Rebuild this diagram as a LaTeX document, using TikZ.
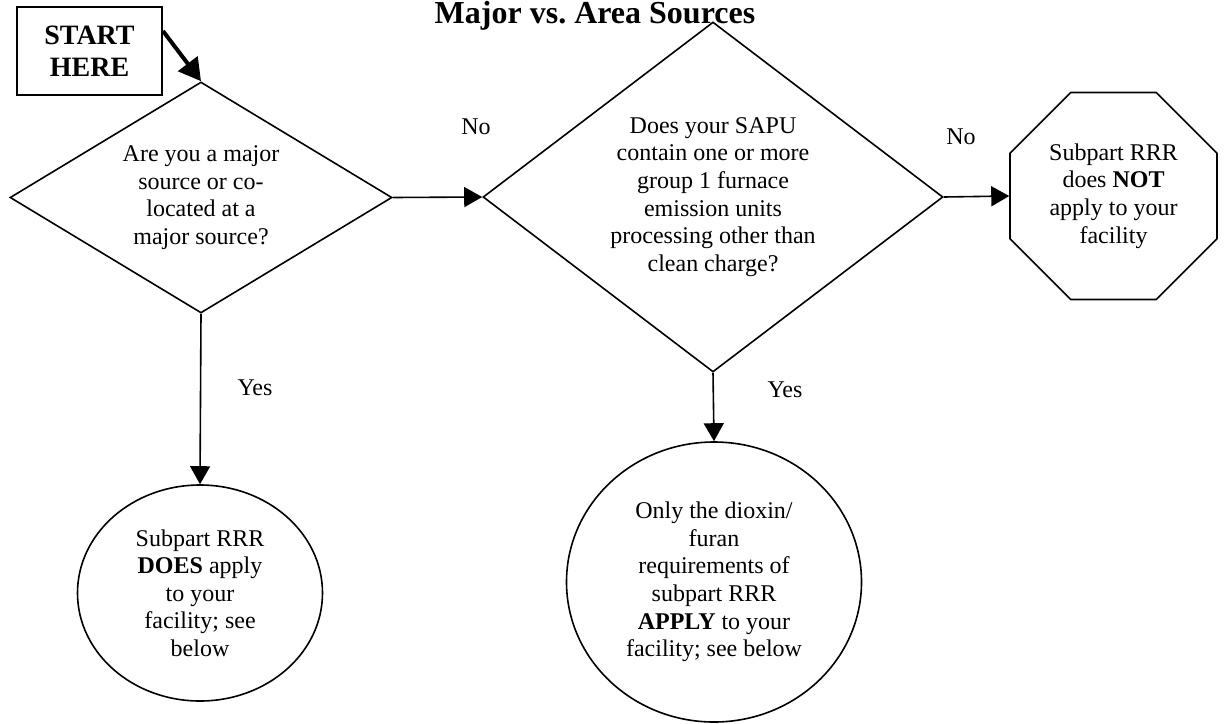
\documentclass[tikz,border=0pt]{standalone}
\usepackage{fontspec}
\setmainfont{Liberation Serif}
\usetikzlibrary{arrows.meta,shapes.geometric}

\begin{document}
\begin{tikzpicture}[x=0.5pt,y=-0.5pt,line width=0.8pt,
          every node/.style={inner sep=0pt,align=center,font=\fontsize{12pt}{13.8pt}\selectfont},
          >={Triangle[length=9pt,width=10pt]},
          question/.style={draw,diamond},
          outcome/.style={draw,ellipse},
          bigbold/.style={font=\fontsize{14pt}{16pt}\selectfont\bfseries}]
  \useasboundingbox (0,0) rectangle (1224,723);
  % title and start
  \node[font=\fontsize{16pt}{18pt}\selectfont\bfseries,anchor=base] (title) at (595,23) {Major vs.\ Area Sources};
  \node[draw,line width=1pt,bigbold,minimum width=72.5pt,minimum height=44pt] (start) at (89.5,51) {START\\HERE};
  % questions
  \node[question,aspect=1.6,minimum width=191pt,minimum height=115.5pt] (q1) at (201,197.5)
    {Are you a major\\source or co-\\located at a\\major source?};
  \node[question,aspect=1.3,minimum width=230pt,minimum height=175pt] (q2) at (713,197)
    {Does your SAPU\\contain one or more\\group 1 furnace\\emission units\\processing other than\\clean charge?};
  % outcomes
  \node[outcome,minimum width=122.5pt,minimum height=108pt] (c1) at (200,593)
    {Subpart RRR\\\textbf{DOES} apply\\to your\\facility; see\\below};
  \node[outcome,minimum width=147.5pt,minimum height=140pt] (c2) at (714,582)
    {Only the dioxin/\\furan\\requirements of\\subpart RRR\\\textbf{APPLY} to your\\facility; see below};
  \node[draw,regular polygon,regular polygon sides=8,minimum size=112pt] (stop) at (1113.5,196)
    {Subpart RRR\\does \textbf{NOT}\\apply to your\\facility};
  % answers
  \node (no1) at (476,127) {No};
  \node (no2) at (961,137) {No};
  \node (yes1) at (255,388) {Yes};
  \node (yes2) at (785,390) {Yes};
  % arrows
  \draw[line width=2pt,-{Triangle[length=11pt,width=12pt]}] ([yshift=-12.5pt]start.north east) -- (q1.north);
  \draw[->] (q1.east) -- (q2.west);
  \draw[->] (q2.east) -- (stop.west);
  \draw[->] (q1.south) -- (c1.north);
  \draw[->] (q2.south) -- (c2.north);
\end{tikzpicture}
\end{document}
